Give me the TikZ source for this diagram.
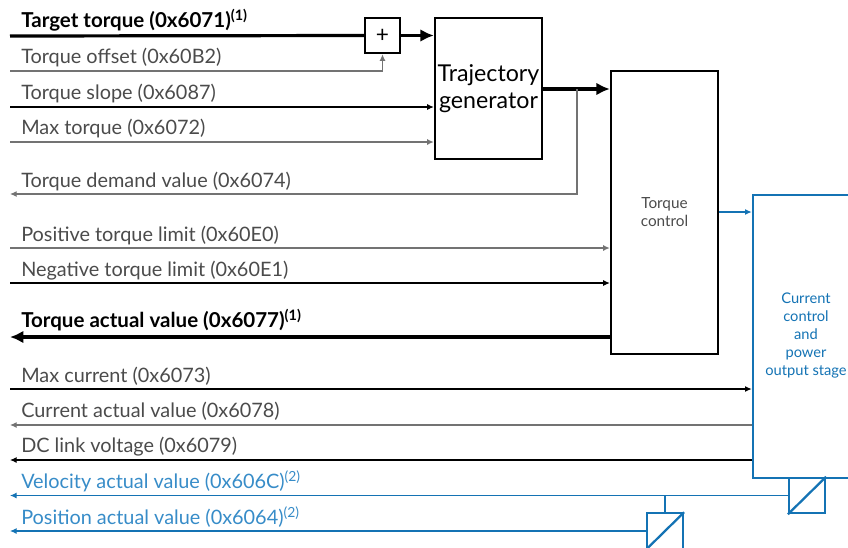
\documentclass[tikz,border=0pt]{standalone}
\usepackage{fontspec}
\setmainfont{Lato}
\usetikzlibrary{arrows.meta}
\definecolor{txtgrey}{RGB}{75,75,75}
\definecolor{linegrey}{RGB}{115,115,115}
\definecolor{kblue}{RGB}{20,115,180}
\definecolor{ltblue}{RGB}{55,140,200}
\begin{document}
\begin{tikzpicture}[x=0.75pt,y=-0.75pt,
  lbl/.style={anchor=base west, inner sep=0pt, text=txtgrey, font=\fontsize{14.9}{17}\selectfont},
  blbl/.style={anchor=base west, inner sep=0pt, text=black, font=\fontsize{15.4}{17}\selectfont\bfseries},
  bluelbl/.style={anchor=base west, inner sep=0pt, text=ltblue, font=\fontsize{14.9}{17}\selectfont},
  sig/.style={line width=0.8pt, draw=black},
  gsig/.style={line width=0.9pt, draw=linegrey},
  bsig/.style={line width=0.8pt, draw=kblue},
  heavy/.style={line width=2.4pt, draw=black},
  tip/.style={-{Latex[length=5pt,width=4.5pt]}},
  bigtip/.style={-{Latex[length=10pt,width=9.5pt]}},
  blockbox/.style={draw=black, line width=1.8pt, rectangle, inner sep=0pt, align=center},
  sensorbox/.style={draw=kblue, line width=1.7pt, rectangle, inner sep=0pt, minimum width=27pt, minimum height=26.5pt}
]
\useasboundingbox (0,0) rectangle (848,547);
\clip (0,0) rectangle (848,547);

% blocks
\node[blockbox, minimum width=26.25pt, minimum height=26.25pt, font=\fontsize{17}{18}\selectfont] (plus) at (382.5,35.5) {+};
\node[blockbox, minimum width=80.25pt, minimum height=105.75pt, font=\fontsize{17.4}{20.5}\selectfont] (traj) at (488.5,88.5) {Trajectory\\generator};
\node[blockbox, minimum width=80.25pt, minimum height=212.25pt, font=\fontsize{11.5}{13.5}\selectfont, text=txtgrey] (tc) at (664.5,212.5) {Torque\\control};
\node[draw=kblue, line width=2pt, rectangle, inner sep=0pt, minimum width=79.5pt, minimum height=212.25pt] (cc) at (806,336.5) {};
\node[text=kblue, align=center, inner sep=0pt, font=\fontsize{11}{13.5}\selectfont] (cctext) at (806,335.5) {Current\\control\\and\\power\\output stage};
\node[sensorbox] (s1) at (807,495.5) {};
\draw[kblue, line width=1.7pt] (s1.south west) -- (s1.north east);
\node[sensorbox] (s2) at (665,531) {};
\draw[kblue, line width=1.7pt] (s2.south west) -- (s2.north east);

% free ends
\coordinate (ttA) at (10,36);
\coordinate (toA) at (10,71);
\coordinate (tsA) at (10,107);
\coordinate (mtA) at (10,142);
\coordinate (tdA) at (10,194);
\coordinate (ptA) at (10,248);
\coordinate (ntA) at (10,283);
\coordinate (taA) at (10,337);
\coordinate (mcA) at (10,389);
\coordinate (caA) at (10,425);
\coordinate (dcA) at (10,460);
\coordinate (vaA) at (10,496);
\coordinate (paA) at (10,531);
\coordinate (br) at (577,89);

% labels
\node[blbl] (ttL) at (21,27) {Target torque (0x6071)\textsuperscript{(1)}};
\node[lbl] (toL) at (21,63) {Torque offset (0x60B2)};
\node[lbl] (tsL) at (21,99.5) {Torque slope (0x6087)};
\node[lbl] (mtL) at (21,134.5) {Max torque (0x6072)};
\node[lbl] (tdL) at (21,187.5) {Torque demand value (0x6074)};
\node[lbl] (ptL) at (21,241) {Positive torque limit (0x60E0)};
\node[lbl] (ntL) at (21,276) {Negative torque limit (0x60E1)};
\node[blbl] (taL) at (21,327.5) {Torque actual value (0x6077)\textsuperscript{(1)}};
\node[lbl] (mcL) at (21,382) {Max current (0x6073)};
\node[lbl] (caL) at (21,417.5) {Current actual value (0x6078)};
\node[lbl] (dcL) at (21,452.5) {DC link voltage (0x6079)};
\node[bluelbl] (vaL) at (21,488) {Velocity actual value (0x606C)\textsuperscript{(2)}};
\node[bluelbl] (paL) at (21,524) {Position actual value (0x6064)\textsuperscript{(2)}};

% connectors
\draw[heavy] (ttA) -- (plus.west);
\draw[heavy, bigtip] (plus.east) -- (traj.west |- plus.east);
\draw[gsig, tip] (toA) -| (plus.south);
\draw[sig, tip] (tsA) -- (traj.west |- tsA);
\draw[gsig, tip] (mtA) -- (traj.west |- mtA);
\draw[heavy, bigtip] (traj.east |- br) -- (tc.west |- br);
\draw[gsig, tip] (br) |- (tdA);
\draw[bsig, tip] (tc.east |- 0,212) -- (cc.west |- 0,212);
\draw[gsig, tip] (ptA) -- (tc.west |- ptA);
\draw[sig, tip] (ntA) -- (tc.west |- ntA);
\draw[heavy, bigtip] (tc.west |- taA) -- (taA);
\draw[sig, tip] (mcA) -- (cc.west |- mcA);
\draw[gsig, tip] (cc.west |- caA) -- (caA);
\draw[sig, tip] (cc.west |- dcA) -- (dcA);
\draw[bsig, tip] (s1.west) -- (s1.west -| vaA);
\draw[bsig] (s2.north |- s1.west) -- (s2.north);
\draw[bsig, tip] (s2.west) -- (s2.west -| paA);
\end{tikzpicture}
\end{document}
